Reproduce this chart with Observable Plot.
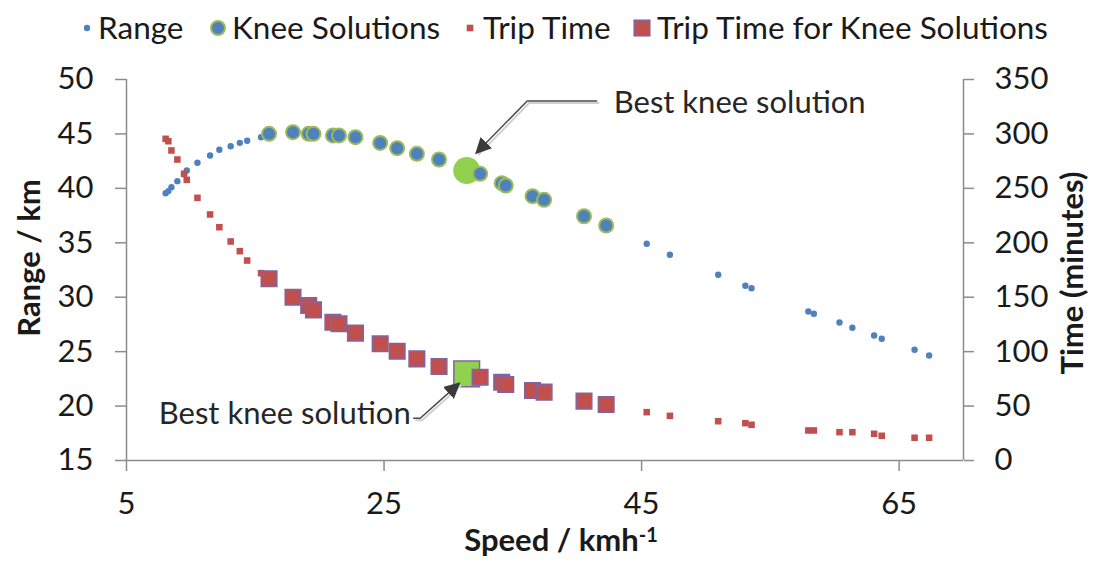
<!DOCTYPE html>
<html><head><meta charset="utf-8">
<script src="https://cdn.jsdelivr.net/npm/d3@7"></script>
<script src="https://cdn.jsdelivr.net/npm/@observablehq/plot@0.6"></script>
<style>
body{margin:0;background:#fff;font-family:Lato,sans-serif;}
#wrap{position:relative;width:1102px;height:571px;overflow:hidden;}
#legend{position:relative;height:50px;width:1102px;}
.ltext{position:absolute;top:0;height:54px;line-height:54px;font-size:31.5px;color:#1a1a1a;white-space:nowrap;}
.lmark{position:absolute;}
#chart svg{display:block;}
</style></head><body>
<div id="wrap"><div id="legend"></div><div id="chart"></div></div>
<script>
// ---- data ----
const speeds = [8.04, 8.25, 8.49, 8.95, 9.47, 9.68, 10.51, 11.49, 12.21, 13.09, 13.8, 14.37, 15.45,
  45.4, 47.2, 50.95, 53.06, 53.54, 57.95, 58.38, 60.37, 61.37, 63.06, 63.65, 66.2, 67.33];
const ranges = [39.55, 39.75, 40.11, 40.66, 41.3, 41.64, 42.35, 43.02, 43.54, 43.87, 44.18, 44.37, 44.7,
  34.91, 33.9, 32.06, 31.05, 30.83, 28.69, 28.48, 27.68, 27.19, 26.48, 26.18, 25.17, 24.65];
const times = [295.5, 293.3, 284.8, 276.5, 263.4, 257.8, 241.3, 226.0, 214.3, 201.2, 192.3, 183.7, 172.1,
  44.4, 41.0, 36.1, 34.3, 32.8, 27.6, 27.6, 26.0, 26.0, 24.5, 22.7, 20.9, 20.9];
const kneeSpeeds = [16.07, 17.93, 19.15, 19.52, 21.03, 21.5, 22.78, 24.7, 26.02, 27.55, 29.27,
  32.46, 34.14, 34.45, 36.53, 37.43, 40.53, 42.25];
const kneeRanges = [45.01, 45.16, 45.01, 45.01, 44.86, 44.86, 44.7, 44.17, 43.69, 43.17, 42.65,
  41.34, 40.48, 40.26, 39.28, 38.95, 37.44, 36.59];
const kneeTimes = [166.9, 150.0, 142.4, 138.4, 127.0, 125.6, 117.0, 107.2, 100.4, 93.4, 86.3,
  76.5, 71.9, 69.8, 64.3, 62.8, 54.5, 51.4];
const bestSpeed = 31.42, bestRange = 41.64, bestTime = 79.6;
const rangeTicks = [15, 20, 25, 30, 35, 40, 45, 50];
const timeTicks = [0, 50, 100, 150, 200, 250, 300, 350];
const speedTicks = [5, 25, 45, 65];
const speedDomain = [5, 70];
const seriesNames = ["Range", "Knee Solutions", "Trip Time", "Trip Time for Knee Solutions"];
const annotationText = "Best knee solution";

// ---- tables ----
const rows = speeds.map((s, i) => ({speed: s, range: ranges[i], time: times[i]}));
const kneeRows = kneeSpeeds.map((s, i) => ({speed: s, range: kneeRanges[i], time: kneeTimes[i]}));
const bestRows = [{speed: bestSpeed, range: bestRange, time: bestTime}];

// secondary axis: time mapped onto the range scale
const r0 = rangeTicks[0], r1 = rangeTicks[rangeTicks.length - 1], tMax = timeTicks[timeTicks.length - 1];
const tToY = t => r0 + t * (r1 - r0) / tMax;
const yToT = y => Math.round((y - r0) * tMax / (r1 - r0));

const BLUE = "#4f81bd", RED = "#c0504d", GREEN = "#9bbb59", LGREEN = "#92d050", PURPLE = "#8064a2";
const AXIS = "#8c8c8c", TXT = "#1a1a1a";

// ---- legend ----
const legend = d3.select("#legend");
const legendSpec = [
  {name: seriesNames[0], cx: 87, tx: 98, draw: g => g.append("circle").attr("r", 3.2).attr("fill", BLUE)},
  {name: seriesNames[1], cx: 218, tx: 232, draw: g => g.append("circle").attr("r", 7).attr("fill", BLUE).attr("stroke", GREEN).attr("stroke-width", 2)},
  {name: seriesNames[2], cx: 470, tx: 483, draw: g => g.append("rect").attr("x", -3.3).attr("y", -3.3).attr("width", 6.6).attr("height", 6.6).attr("fill", RED)},
  {name: seriesNames[3], cx: 642, tx: 657, draw: g => g.append("rect").attr("x", -7.8).attr("y", -7.8).attr("width", 15.6).attr("height", 15.6).attr("fill", RED).attr("stroke", PURPLE).attr("stroke-width", 1.5)}
];
for (const it of legendSpec) {
  const s = legend.append("svg").attr("class", "lmark").attr("width", 20).attr("height", 20)
    .style("left", (it.cx - 10) + "px").style("top", (28 - 10) + "px");
  it.draw(s.append("g").attr("transform", "translate(10,10)"));
  legend.append("div").attr("class", "ltext").style("left", it.tx + "px").text(it.name);
}

// ---- plot ----
const plot = Plot.plot({
  width: 1102, height: 521,
  marginTop: 29, marginBottom: 111, marginLeft: 126, marginRight: 139,
  x: {domain: speedDomain},
  y: {domain: [r0, r1]},
  style: {fontFamily: "Lato, sans-serif", fontSize: "31px", color: TXT, background: "white", overflow: "visible"},
  marks: [
    Plot.ruleX([speedDomain[0]], {stroke: AXIS, strokeWidth: 1.5}),
    Plot.ruleX([speedDomain[1]], {stroke: AXIS, strokeWidth: 1.5}),
    Plot.ruleY([r0], {stroke: AXIS, strokeWidth: 1.5}),
    Plot.axisX({ticks: speedTicks, tickSize: 11, tickPadding: 20, stroke: AXIS, strokeWidth: 1.5, fontSize: 31, label: null}),
    Plot.axisY({anchor: "left", ticks: rangeTicks, tickSize: 11, tickPadding: 22, stroke: AXIS, strokeWidth: 1.5, fontSize: 31, label: null}),
    Plot.axisY({anchor: "right", ticks: timeTicks.map(tToY), tickFormat: yToT, tickSize: 10, tickPadding: 21, stroke: AXIS, strokeWidth: 1.5, fontSize: 31, label: null}),
    // Range
    Plot.dot(rows, {x: "speed", y: "range", r: 3.2, fill: BLUE}),
    // best knee (range)
    Plot.dot(bestRows, {x: "speed", y: "range", r: 13.5, fill: LGREEN}),
    // Knee solutions
    Plot.dot(kneeRows, {x: "speed", y: "range", r: 7, fill: BLUE, stroke: GREEN, strokeWidth: 2}),
    // Trip time
    Plot.dot(rows, {x: "speed", y: d => tToY(d.time), symbol: "square", r: 3.7, fill: RED}),
    // best knee (time)
    Plot.dot(bestRows, {x: "speed", y: d => tToY(d.time), symbol: "square", r: 14.5, fill: LGREEN, stroke: PURPLE, strokeWidth: 1.5}),
    // Trip time for knee solutions
    Plot.dot(kneeRows, {x: "speed", y: d => tToY(d.time), symbol: "square", r: 8.8, fill: RED, stroke: PURPLE, strokeWidth: 1.5}),
    // annotations
    Plot.text(bestRows, {x: "speed", y: "range", text: () => annotationText, textAnchor: "start", lineAnchor: "middle", dx: 147, dy: -67, fontSize: 31, fill: "#262626"}),
    Plot.text(bestRows, {x: "speed", y: d => tToY(d.time), text: () => annotationText, textAnchor: "end", lineAnchor: "middle", dx: -56, dy: 40, fontSize: 31, fill: "#262626"}),
    // axis titles
    Plot.text(["Range / km"], {frameAnchor: "left", text: d => d, rotate: -90, textAnchor: "middle", lineAnchor: "middle", dx: -96, dy: -12, fontWeight: "bold", fontSize: 31, fill: TXT}),
    Plot.text(["Time (minutes)"], {frameAnchor: "right", text: d => d, rotate: -90, textAnchor: "middle", lineAnchor: "middle", dx: 110, dy: 3, fontWeight: "bold", fontSize: 31, fill: TXT}),
    Plot.text(["Speed / kmh"], {frameAnchor: "bottom", text: d => d, textAnchor: "middle", lineAnchor: "middle", dx: 16, dy: 81, fontWeight: "bold", fontSize: 31, fill: TXT})
  ]
});
document.getElementById("chart").appendChild(plot);

// superscript on x title
d3.select(plot).selectAll("text").filter(function() { return this.textContent === "Speed / kmh"; })
  .append("tspan").attr("dy", "-0.45em").attr("font-size", 20).text("-1");

// callout arrows anchored on the best knee solution
const xs = plot.scale("x"), ys = plot.scale("y");
const bx = xs.apply(bestSpeed), byR = ys.apply(bestRange), byT = ys.apply(tToY(bestTime));
const svg = d3.select(plot);
const defs = svg.append("defs");
defs.append("marker").attr("id", "ah").attr("viewBox", "0 0 10 10").attr("refX", 9).attr("refY", 5)
  .attr("markerWidth", 16).attr("markerHeight", 16).attr("markerUnits", "userSpaceOnUse").attr("orient", "auto")
  .append("path").attr("d", "M0,0L10,5L0,10Z").attr("fill", "#3a3a3a");
const line = d3.line();
const callouts = [
  [[bx + 131, byR - 69], [bx + 61, byR - 69], [bx + 10, byR - 17]],
  [[bx - 53, byT + 45], [bx - 46, byT + 45], [bx - 7, byT + 10]]
];
for (const pts of callouts) {
  svg.append("path").attr("d", line(pts.map(p => [p[0] + 2, p[1] + 2]))).attr("fill", "none").attr("stroke", "#d0d0d0").attr("stroke-width", 2);
  svg.append("path").attr("d", line(pts)).attr("fill", "none").attr("stroke", "#4a4a4a").attr("stroke-width", 1.5).attr("marker-end", "url(#ah)");
}
</script>
</body></html>
